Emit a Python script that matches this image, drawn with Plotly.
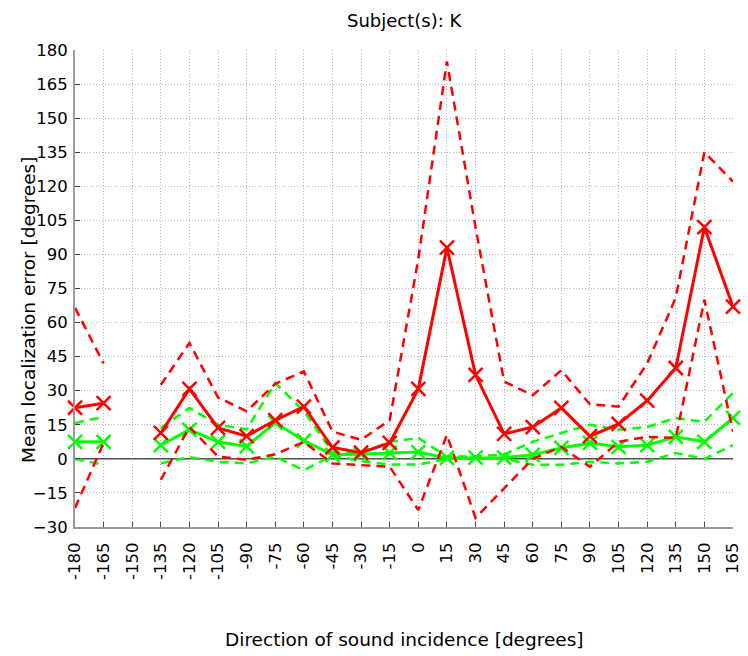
import plotly.graph_objects as go

directions = [-180, -165, -150, -135, -120, -105, -90, -75, -60, -45, -30, -15,
              0, 15, 30, 45, 60, 75, 90, 105, 120, 135, 150, 165]
tick_labels = [str(d) for d in directions]
y_ticks = list(range(-30, 181, 15))

red_mean = [22.5, 24.5, None, 11.4, 30.8, 13.6, 10, 17, 23, 5, 2.7, 7,
            30.8, 93, 37, 11, 14, 22.4, 10, 15.4, 25.6, 40, 102, 67]
red_upper = [66.5, 42, None, 32.6, 51, 27, 21, 33, 38.5, 12, 8.4, 17,
             88, 175, 102, 34, 28, 39, 24, 23, 42, 71, 135, 122]
red_lower = [-21.6, 7, None, -9.2, 14, 1, -0.4, 2, 7.5, -2, -2.6, -3.5,
             -22.5, 10.5, -26, -13, 0, 5.3, -3.5, 7.5, 9.7, 9.2, 70, 12]

green_mean = [7.5, 7.5, None, 6, 12.8, 7.5, 5.5, 16, 8, 1.8, 2, 2.6,
              3, 0.4, 0.5, 0.5, 1.8, 4.8, 7, 5.3, 6, 9.7, 7.5, 18]
green_upper = [15.8, 18.5, None, 13.6, 22.4, 15, 13, 33.4, 21, 3, 2.6, 7.5,
               9.2, 1, 1, 2, 7.5, 11.4, 15, 12.8, 14, 18, 16.3, 29]
green_lower = [0, -2.6, None, -2, 0.8, -1.3, -2, 1, -5, 1.5, -1, -2.5,
               -2.5, 0, 0, 0, -2.6, -2.6, -1.3, -2, -1.3, 2.6, 0, 6]

RED = "#ff0000"
GREEN = "#00ff00"

fig = go.Figure()

# zero line
fig.add_trace(go.Scatter(x=[directions[0], directions[-1]], y=[0, 0], mode="lines",
                         line=dict(color="black", width=1), hoverinfo="skip",
                         showlegend=False))

def dashed(y, color):
    fig.add_trace(go.Scatter(x=directions, y=y, mode="lines",
                             line=dict(color=color, width=2.5, dash="9px,6px"),
                             connectgaps=False, showlegend=False, cliponaxis=False))

def solid(y, color):
    fig.add_trace(go.Scatter(x=directions, y=y, mode="lines+markers",
                             line=dict(color=color, width=3),
                             marker=dict(symbol="x-thin", size=14,
                                         line=dict(color=color, width=2.5)),
                             connectgaps=False, showlegend=False, cliponaxis=False))

dashed(green_upper, GREEN)
dashed(green_lower, GREEN)
solid(green_mean, GREEN)
dashed(red_upper, RED)
dashed(red_lower, RED)
solid(red_mean, RED)

FAM = "DejaVu Sans, Liberation Sans, sans-serif"
font = dict(family=FAM, size=16.5, color="black")

L, R, T, B = 75, 733, 50, 527
W, H = 748, 656

grid = dict(showgrid=True, gridcolor="#b4b4b4", griddash="1px,2px", gridwidth=1,
            zeroline=False, showline=True, linecolor="#999999", linewidth=2,
            ticks="inside", ticklen=5, tickcolor="#444444", automargin=False,
            tickfont=dict(size=16.5))

fig.update_layout(
    width=W, height=H,
    margin=dict(l=L, r=W - R, t=T, b=H - B),
    paper_bgcolor="white", plot_bgcolor="white",
    font=font,
    xaxis=dict(range=[-180, 165], tickmode="array", tickvals=directions,
               ticktext=tick_labels, tickangle=-90, ticklabelstandoff=7, **grid),
    yaxis=dict(range=[-30, 180], tickmode="array", tickvals=y_ticks,
               ticklabelstandoff=2, **grid),
    annotations=[
        dict(text="Subject(s): K", xref="paper", yref="paper",
             x=0.5, y=1 + (T - 21) / (B - T), xanchor="center", yanchor="middle",
             showarrow=False, font=dict(family=FAM, size=18)),
        dict(text="Direction of sound incidence [degrees]", xref="paper", yref="paper",
             x=0.5, y=-(639 - B) / (B - T), xanchor="center", yanchor="middle",
             showarrow=False, font=dict(family=FAM, size=18.5)),
        dict(text="Mean localization error [degrees]", xref="paper", yref="paper",
             x=-(L - 28) / (R - L), y=0.5 - (310 - (T + B) / 2) / (B - T),
             xanchor="center", yanchor="middle",
             textangle=-90, showarrow=False, font=dict(family=FAM, size=18.5)),
    ],
)

fig.write_html("out.html", config={"displayModeBar": False},
               post_script="document.body.style.margin='0px';")
